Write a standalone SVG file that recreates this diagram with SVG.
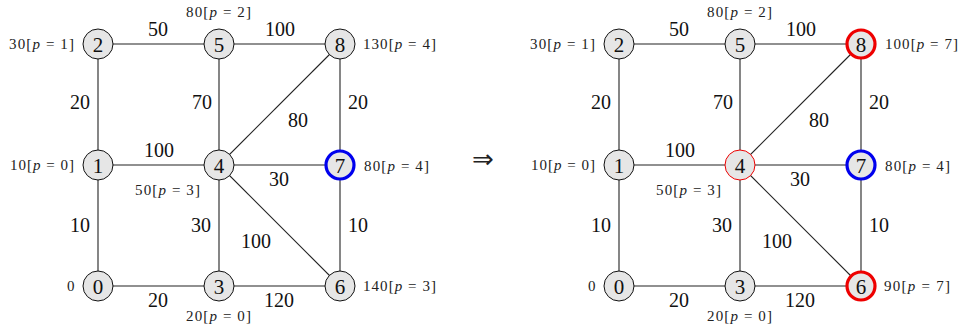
<svg xmlns="http://www.w3.org/2000/svg" width="959" height="326" viewBox="0 0 959 326" font-family="'Liberation Serif', 'DejaVu Serif', serif">
<style>
.e{stroke:#222;stroke-width:1.1;fill:none}
.n{fill:#e6e6e6;stroke:#111;stroke-width:1}
.blue{stroke:#0000ee;stroke-width:3.2}
.red{stroke:#ee0000;stroke-width:3.2}
.redthin{stroke:#ee0000;stroke-width:1}
text{font-family:'Liberation Serif','DejaVu Serif',serif}
.nt{font-size:21px;text-anchor:middle;fill:#111}
.w{font-size:20px;text-anchor:middle;fill:#111}
.s{font-size:15px;fill:#222}
.i{font-style:italic}
</style>
<rect width="959" height="326" fill="#fff"/>

<!-- LEFT GRAPH -->
<g id="left">
<g id="left-edges">
<line class="e" x1="98" y1="286" x2="98" y2="165"/>
<line class="e" x1="98" y1="165" x2="98" y2="44"/>
<line class="e" x1="98" y1="286" x2="219" y2="286"/>
<line class="e" x1="98" y1="165" x2="219" y2="165"/>
<line class="e" x1="98" y1="44" x2="219" y2="44"/>
<line class="e" x1="219" y1="286" x2="219" y2="165"/>
<line class="e" x1="219" y1="165" x2="219" y2="44"/>
<line class="e" x1="219" y1="286" x2="340" y2="286"/>
<line class="e" x1="219" y1="165" x2="340" y2="165"/>
<line class="e" x1="219" y1="44" x2="340" y2="44"/>
<line class="e" x1="340" y1="286" x2="340" y2="165"/>
<line class="e" x1="340" y1="165" x2="340" y2="44"/>
<line class="e" x1="219" y1="165" x2="340" y2="44"/>
<line class="e" x1="219" y1="165" x2="340" y2="286"/>
<text class="w" x="158" y="36">50</text>
<text class="w" x="280" y="36">100</text>
<text class="w" x="80" y="109">20</text>
<text class="w" x="202" y="109">70</text>
<text class="w" x="358" y="109">20</text>
<text class="w" x="298" y="127">80</text>
<text class="w" x="159" y="157">100</text>
<text class="w" x="279" y="186">30</text>
<text class="w" x="80" y="232">10</text>
<text class="w" x="201" y="232">30</text>
<text class="w" x="256" y="248">100</text>
<text class="w" x="358" y="232">10</text>
<text class="w" x="158" y="307">20</text>
<text class="w" x="279" y="307">120</text>
</g>
<g id="L0"><circle class="n" cx="98" cy="286" r="15"/><text class="nt" x="98" y="293.5">0</text><text class="s" x="67" y="291">0</text></g>
<g id="L1"><circle class="n" cx="98" cy="165" r="15"/><text class="nt" x="98" y="172.5">1</text><text class="s" x="10" y="170" textLength="64" lengthAdjust="spacing">10[<tspan class="i">p</tspan> = 0]</text></g>
<g id="L2"><circle class="n" cx="98" cy="44" r="15"/><text class="nt" x="98" y="51.5">2</text><text class="s" x="9" y="48.5" textLength="65" lengthAdjust="spacing">30[<tspan class="i">p</tspan> = 1]</text></g>
<g id="L3"><circle class="n" cx="219" cy="286" r="15"/><text class="nt" x="219" y="293.5">3</text><text class="s" x="186" y="320.5" textLength="65" lengthAdjust="spacing">20[<tspan class="i">p</tspan> = 0]</text></g>
<g id="L4"><circle class="n" cx="219" cy="165" r="15"/><text class="nt" x="219" y="172.5">4</text><text class="s" x="135" y="194.5" textLength="65" lengthAdjust="spacing">50[<tspan class="i">p</tspan> = 3]</text></g>
<g id="L5"><circle class="n" cx="219" cy="44" r="15"/><text class="nt" x="219" y="51.5">5</text><text class="s" x="186" y="17" textLength="65" lengthAdjust="spacing">80[<tspan class="i">p</tspan> = 2]</text></g>
<g id="L6"><circle class="n" cx="340" cy="286" r="15"/><text class="nt" x="340" y="293.5">6</text><text class="s" x="363" y="291" textLength="73" lengthAdjust="spacing">140[<tspan class="i">p</tspan> = 3]</text></g>
<g id="L7"><circle class="n blue" cx="340" cy="165" r="14"/><text class="nt" x="340" y="172.5">7</text><text class="s" x="364" y="170.5" textLength="65" lengthAdjust="spacing">80[<tspan class="i">p</tspan> = 4]</text></g>
<g id="L8"><circle class="n" cx="340" cy="44" r="15"/><text class="nt" x="340" y="51.5">8</text><text class="s" x="363" y="48.5" textLength="73" lengthAdjust="spacing">130[<tspan class="i">p</tspan> = 4]</text></g>
</g>

<text x="483" y="168" style="font-family:'DejaVu Sans',sans-serif;font-size:26px;text-anchor:middle;fill:#222">⇒</text>

<!-- RIGHT GRAPH -->
<g id="right" transform="translate(521,0)">
<g id="right-edges">
<line class="e" x1="98" y1="286" x2="98" y2="165"/>
<line class="e" x1="98" y1="165" x2="98" y2="44"/>
<line class="e" x1="98" y1="286" x2="219" y2="286"/>
<line class="e" x1="98" y1="165" x2="219" y2="165"/>
<line class="e" x1="98" y1="44" x2="219" y2="44"/>
<line class="e" x1="219" y1="286" x2="219" y2="165"/>
<line class="e" x1="219" y1="165" x2="219" y2="44"/>
<line class="e" x1="219" y1="286" x2="340" y2="286"/>
<line class="e" x1="219" y1="165" x2="340" y2="165"/>
<line class="e" x1="219" y1="44" x2="340" y2="44"/>
<line class="e" x1="340" y1="286" x2="340" y2="165"/>
<line class="e" x1="340" y1="165" x2="340" y2="44"/>
<line class="e" x1="219" y1="165" x2="340" y2="44"/>
<line class="e" x1="219" y1="165" x2="340" y2="286"/>
<text class="w" x="158" y="36">50</text>
<text class="w" x="280" y="36">100</text>
<text class="w" x="80" y="109">20</text>
<text class="w" x="202" y="109">70</text>
<text class="w" x="358" y="109">20</text>
<text class="w" x="298" y="127">80</text>
<text class="w" x="159" y="157">100</text>
<text class="w" x="279" y="186">30</text>
<text class="w" x="80" y="232">10</text>
<text class="w" x="201" y="232">30</text>
<text class="w" x="256" y="248">100</text>
<text class="w" x="358" y="232">10</text>
<text class="w" x="158" y="307">20</text>
<text class="w" x="279" y="307">120</text>
</g>
<g id="R0"><circle class="n" cx="98" cy="286" r="15"/><text class="nt" x="98" y="293.5">0</text><text class="s" x="67" y="291">0</text></g>
<g id="R1"><circle class="n" cx="98" cy="165" r="15"/><text class="nt" x="98" y="172.5">1</text><text class="s" x="10" y="170" textLength="64" lengthAdjust="spacing">10[<tspan class="i">p</tspan> = 0]</text></g>
<g id="R2"><circle class="n" cx="98" cy="44" r="15"/><text class="nt" x="98" y="51.5">2</text><text class="s" x="9" y="48.5" textLength="65" lengthAdjust="spacing">30[<tspan class="i">p</tspan> = 1]</text></g>
<g id="R3"><circle class="n" cx="219" cy="286" r="15"/><text class="nt" x="219" y="293.5">3</text><text class="s" x="186" y="320.5" textLength="65" lengthAdjust="spacing">20[<tspan class="i">p</tspan> = 0]</text></g>
<g id="R4"><circle class="n redthin" cx="219" cy="165" r="15"/><text class="nt" x="219" y="172.5">4</text><text class="s" x="135" y="194.5" textLength="65" lengthAdjust="spacing">50[<tspan class="i">p</tspan> = 3]</text></g>
<g id="R5"><circle class="n" cx="219" cy="44" r="15"/><text class="nt" x="219" y="51.5">5</text><text class="s" x="186" y="17" textLength="65" lengthAdjust="spacing">80[<tspan class="i">p</tspan> = 2]</text></g>
<g id="R6"><circle class="n red" cx="340" cy="286" r="14"/><text class="nt" x="340" y="293.5">6</text><text class="s" x="363" y="291" textLength="66" lengthAdjust="spacing">90[<tspan class="i">p</tspan> = 7]</text></g>
<g id="R7"><circle class="n blue" cx="340" cy="165" r="14"/><text class="nt" x="340" y="172.5">7</text><text class="s" x="364" y="170.5" textLength="65" lengthAdjust="spacing">80[<tspan class="i">p</tspan> = 4]</text></g>
<g id="R8"><circle class="n red" cx="340" cy="44" r="14"/><text class="nt" x="340" y="51.5">8</text><text class="s" x="364" y="48.5" textLength="73" lengthAdjust="spacing">100[<tspan class="i">p</tspan> = 7]</text></g>
</g>
</svg>
